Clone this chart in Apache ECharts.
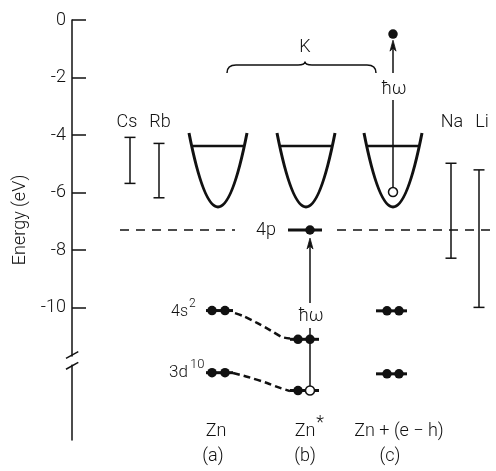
<!DOCTYPE html>
<html><head><meta charset="utf-8">
<script src="https://cdn.jsdelivr.net/npm/echarts@6/dist/echarts.min.js"></script>
<style>html,body{margin:0;padding:0;background:#fff}#c{width:496px;height:471px}</style>
</head><body><div id="c"></div>
<script>
// ---- axis ----
const yTickValues = [0, -2, -4, -6, -8, -10];
const axisBreakE = [-11.70, -11.98];
const breakSlashes = [[-11.76, -11.53], [-12.14, -11.90]];
// ---- K potential wells ----
const wellX = [218, 306, 393];
const wellTop = -3.93;
const wellBottom = -6.5;
const fermiLevel = -4.38;
// ---- alkali energy ranges ----
const alkaliNames = ['Cs', 'Rb', 'Na', 'Li'];
const alkaliX = [130, 159, 451, 479];
const alkaliTop = [-4.08, -4.29, -4.98, -5.21];
const alkaliBottom = [-5.68, -6.18, -8.28, -9.99];
// ---- Zn levels (a) Zn, (b) Zn*, (c) Zn+(e-h) ----
const level4p = -7.30;
const level4s = [-10.10, -11.10, -10.11];
const level3d = [-12.26, -12.88, -12.30];
const levelLeft = [206, 290, 376];
const levelRight = [233, 319, 407];
const dotLeftX = [212, 298, 387];
const dotRightX = [225, 310, 399];
const photoElectron = [393, -0.49];
const photoHole = [393, -5.98];
// dashed connections between (a) and (b)
const link4s = [[235, -10.19], [243, -10.29], [257, -10.53], [270, -10.78], [282, -11.02], [290, -11.07]];
const link3d = [[233, -12.27], [248, -12.41], [267, -12.62], [280, -12.79], [290, -12.90]];
// excitation arrows: x, from, gap start, gap end, to
const arrowX = [310, 393];
const arrowFrom = [-12.72, -5.82];
const arrowGap = [[-10.71, -9.84], [-2.78, -1.84]];
const arrowTo = [-7.58, -0.70];
// brace over wells
const brace = { left: 227, right: 376, mid: 305, e: -1.564, endE: -1.842, peakE: -1.443 };
// labels
const labelTexts = ['Cs', 'Rb', 'Na', 'Li', 'K', 'ħω', 'ħω', '4p', '4s', '2', '3d', '10',
  'Zn', 'Zn', '*', 'Zn + (e − h)', '(a)', '(b)', '(c)', 'Energy (eV)'];
const labelX = [127, 160, 452, 482, 305, 394, 311, 276, 188, 189, 188, 190,
  216, 305, 320, 399, 213, 305, 390, 20];
const labelE = [-3.55, -3.55, -3.58, -3.58, -0.97, -2.40, -10.29, -7.30, -10.15, -9.87, -12.27, -11.99,
  -14.29, -14.29, -14.04, -14.29, -15.16, -15.16, -15.16, -6.95];
const labelAlign = ['center', 'center', 'center', 'center', 'center', 'center', 'center', 'right', 'right', 'left', 'right', 'left',
  'center', 'center', 'center', 'center', 'center', 'center', 'center', 'center'];
const labelSize = [18, 18, 18, 18, 18, 18, 18, 18, 16, 12, 17, 13, 18, 18, 18, 18, 18, 18, 18, 18];

const INK = '#111';
const FONT = 'Roboto, "Liberation Sans", sans-serif';
const WELL_HALF = 29, FERMI_HALF = 25, CAP = 5.5;

const levelData = [];
for (let i = 0; i < 3; i++) {
  levelData.push([levelLeft[i], levelRight[i], level4s[i]]);
  levelData.push([levelLeft[i], levelRight[i], level3d[i]]);
}
levelData.push([288, 322, level4p]);

const filledDots = [];
for (let i = 0; i < 3; i++) {
  filledDots.push([dotLeftX[i], level4s[i]], [dotRightX[i], level4s[i]], [dotLeftX[i], level3d[i]]);
  if (i !== 1) filledDots.push([dotRightX[i], level3d[i]]);
}
filledDots.push([dotRightX[1], level4p], photoElectron);
const openDots = [[dotRightX[1], level3d[1]], photoHole];

const chart = echarts.init(document.getElementById('c'));
chart.setOption({
  animation: false,
  backgroundColor: '#fff',
  grid: { left: 72, right: 0, top: 20, bottom: 31, containLabel: false, outerBoundsMode: 'none' },
  xAxis: { type: 'value', min: 72, max: 496, show: false },
  yAxis: {
    type: 'value', min: -14.6, max: 0,
    axisLine: { show: true, onZero: false, lineStyle: { color: INK, width: 1.5 } },
    axisTick: { show: true, inside: true, length: 14, customValues: yTickValues, lineStyle: { color: INK, width: 1.5 } },
    axisLabel: { customValues: yTickValues, fontSize: 18, margin: 6, color: INK, fontFamily: FONT, fontWeight: 300 },
    splitLine: { show: false }
  },
  series: [
    { // axis break
      type: 'custom', silent: true, data: [[72, axisBreakE[0], axisBreakE[1]]],
      renderItem(p, api) {
        const a = api.coord([api.value(0), api.value(1)]), b = api.coord([api.value(0), api.value(2)]);
        const ch = [{ type: 'rect', shape: { x: a[0] - 3, y: a[1], width: 6, height: b[1] - a[1] }, style: { fill: '#fff' } }];
        breakSlashes.forEach(s => {
          const s1 = api.coord([66, s[0]]), s2 = api.coord([78.3, s[1]]);
          ch.push({ type: 'line', shape: { x1: s1[0], y1: s1[1], x2: s2[0], y2: s2[1] }, style: { stroke: INK, lineWidth: 1.5 } });
        });
        return { type: 'group', children: ch };
      }
    },
    { // wells
      type: 'custom', silent: true, data: wellX.map(x => [x, wellTop, wellBottom, fermiLevel]),
      renderItem(p, api) {
        const x = api.value(0);
        const L = api.coord([x - WELL_HALF, api.value(1)]), R = api.coord([x + WELL_HALF, api.value(1)]);
        const B = api.coord([x, api.value(2)]);
        const fl = api.coord([x - FERMI_HALF, api.value(3)]), fr = api.coord([x + FERMI_HALF, api.value(3)]);
        return { type: 'group', children: [
          { type: 'bezierCurve', shape: { x1: L[0], y1: L[1], x2: R[0], y2: R[1], cpx1: B[0], cpy1: 2 * B[1] - L[1] }, style: { stroke: INK, lineWidth: 3, fill: 'none' } },
          { type: 'line', shape: { x1: fl[0], y1: fl[1], x2: fr[0], y2: fr[1] }, style: { stroke: INK, lineWidth: 2.5 } }
        ] };
      }
    },
    { // alkali ranges
      type: 'custom', silent: true, data: alkaliX.map((x, i) => [x, alkaliTop[i], alkaliBottom[i]]),
      renderItem(p, api) {
        const t = api.coord([api.value(0), api.value(1)]), b = api.coord([api.value(0), api.value(2)]);
        const st = { stroke: INK, lineWidth: 1.5 };
        return { type: 'group', children: [
          { type: 'line', shape: { x1: t[0], y1: t[1], x2: b[0], y2: b[1] }, style: st },
          { type: 'line', shape: { x1: t[0] - CAP, y1: t[1], x2: t[0] + CAP, y2: t[1] }, style: st },
          { type: 'line', shape: { x1: b[0] - CAP, y1: b[1], x2: b[0] + CAP, y2: b[1] }, style: st }
        ] };
      }
    },
    { // 4p dashed reference line
      type: 'custom', silent: true, data: [[120, level4p, 235], [337, level4p, 496]],
      renderItem(p, api) {
        const a = api.coord([api.value(0), api.value(1)]), b = api.coord([api.value(2), api.value(1)]);
        return { type: 'line', shape: { x1: a[0], y1: a[1], x2: b[0], y2: b[1] }, style: { stroke: INK, lineWidth: 1.5, lineDash: [9, 7] } };
      }
    },
    { type: 'line', data: link4s, smooth: 0.3, symbol: 'none', silent: true, lineStyle: { color: INK, width: 2.5, type: [7, 4] } },
    { type: 'line', data: link3d, smooth: 0.3, symbol: 'none', silent: true, lineStyle: { color: INK, width: 2.5, type: [7, 4] } },
    { // level lines
      type: 'custom', silent: true, data: levelData,
      renderItem(p, api) {
        const a = api.coord([api.value(0), api.value(2)]), b = api.coord([api.value(1), api.value(2)]);
        return { type: 'line', shape: { x1: a[0], y1: a[1], x2: b[0], y2: b[1] }, style: { stroke: INK, lineWidth: 3 } };
      }
    },
    { // arrows
      type: 'custom', silent: true, data: arrowX.map((x, i) => [x, arrowFrom[i], arrowGap[i][0], arrowGap[i][1], arrowTo[i]]),
      renderItem(p, api) {
        const x = api.value(0);
        const f = api.coord([x, api.value(1)]), g1 = api.coord([x, api.value(2)]), g2 = api.coord([x, api.value(3)]), t = api.coord([x, api.value(4)]);
        const st = { stroke: INK, lineWidth: 1.5 };
        return { type: 'group', children: [
          { type: 'line', shape: { x1: f[0], y1: f[1], x2: g1[0], y2: g1[1] }, style: st },
          { type: 'line', shape: { x1: g2[0], y1: g2[1], x2: t[0], y2: t[1] + 6 }, style: st },
          { type: 'polygon', shape: { points: [[t[0], t[1]], [t[0] - 3, t[1] + 11], [t[0], t[1] + 8], [t[0] + 3, t[1] + 11]] }, style: { fill: INK, stroke: INK, lineWidth: 0.8 } }
        ] };
      }
    },
    { // brace
      type: 'custom', silent: true, data: [[brace.left, brace.e, brace.right, brace.mid, brace.endE, brace.peakE]],
      renderItem(p, api) {
        const Ls = api.coord([api.value(0), api.value(4)]), Lc = api.coord([api.value(0), api.value(1)]);
        const Rs = api.coord([api.value(2), api.value(4)]), Rc = api.coord([api.value(2), api.value(1)]);
        const M = api.coord([api.value(3), api.value(1)]), P = api.coord([api.value(3), api.value(5)]);
        const y = Lc[1];
        const d = `M${Ls[0]},${Ls[1]} Q${Lc[0]},${y} ${Lc[0] + 9},${y} L${M[0] - 7},${y} Q${M[0]},${y} ${P[0]},${P[1]} Q${M[0]},${y} ${M[0] + 7},${y} L${Rc[0] - 9},${y} Q${Rc[0]},${y} ${Rs[0]},${Rs[1]}`;
        return { type: 'path', shape: { pathData: d }, style: { stroke: INK, lineWidth: 1.5, fill: 'none' } };
      }
    },
    { type: 'scatter', data: filledDots, symbol: 'circle', symbolSize: 9.5, silent: true, itemStyle: { color: INK, opacity: 1 }, z: 5 },
    { type: 'scatter', data: openDots, symbol: 'circle', symbolSize: 9, silent: true, itemStyle: { color: '#fff', borderColor: INK, borderWidth: 1.5, opacity: 1 }, z: 5 },
    { // labels
      type: 'custom', silent: true, data: labelX.map((x, i) => [x, labelE[i]]), z: 6,
      renderItem(p, api) {
        const i = p.dataIndex;
        const c = api.coord([api.value(0), api.value(1)]);
        return { type: 'text', x: c[0], y: c[1], rotation: labelTexts[i] === 'Energy (eV)' ? Math.PI / 2 : 0,
          style: { text: labelTexts[i], fontSize: labelSize[i], fontFamily: FONT, fontWeight: 300, fill: INK, align: labelAlign[i], verticalAlign: 'middle' } };
      }
    }
  ]
});
</script></body></html>
